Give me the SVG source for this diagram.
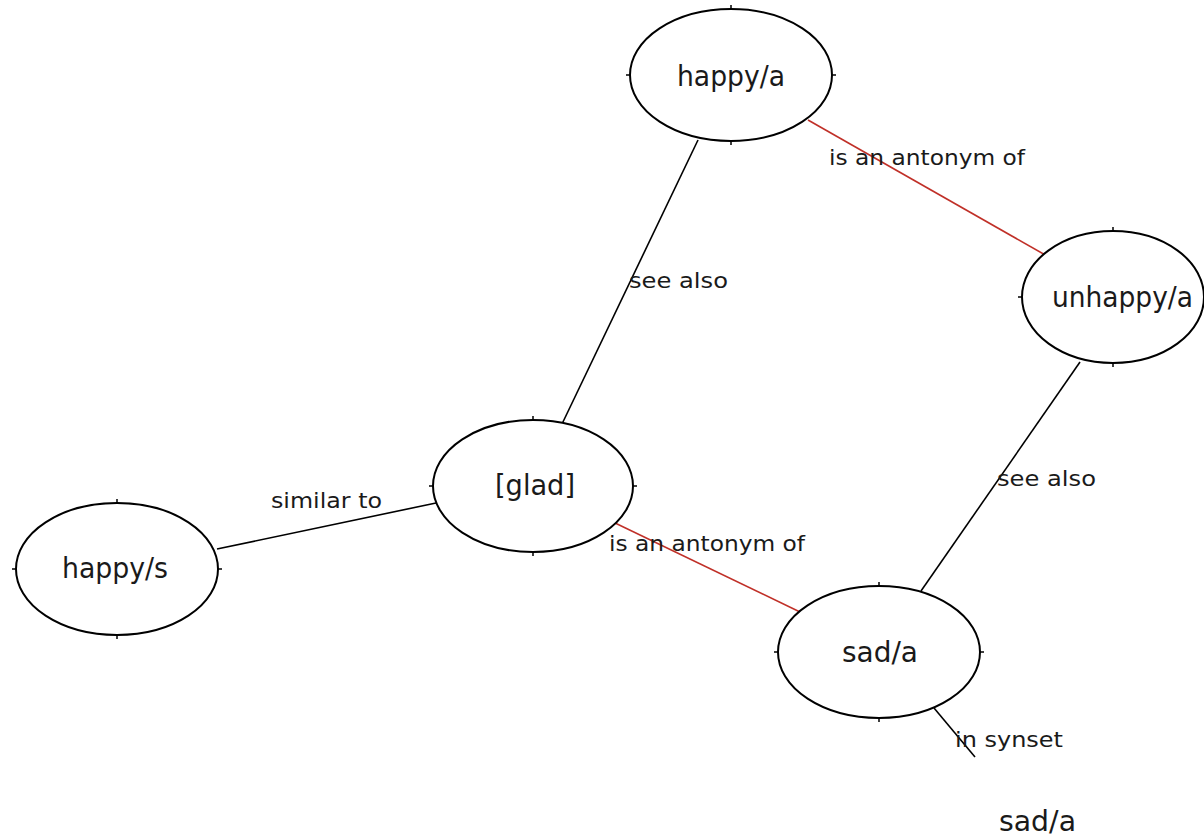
<svg xmlns="http://www.w3.org/2000/svg" width="1204" height="836" viewBox="0 0 1204 836">
<style>
.bg{fill:#fff}
.node ellipse{fill:#fff;stroke:#000;stroke-width:2}
.tick{stroke:#000;stroke-width:1.5}
.nl{font-family:"DejaVu Sans",sans-serif;font-size:29px;fill:#1a1a1a}
.el{font-family:"DejaVu Sans",sans-serif;font-size:21px;fill:#1a1a1a}
.e{stroke:#000;stroke-width:1.6;fill:none}
.r{stroke:#c03028;stroke-width:1.6;fill:none}
</style>
<rect class="bg" width="1204" height="836"/>
<g id="connectors">
<line class="e" x1="698" y1="140" x2="562" y2="424"/>
<line class="r" x1="808" y1="120" x2="1047" y2="256"/>
<line class="e" x1="1080" y1="362" x2="921" y2="591"/>
<line class="r" x1="613" y1="522" x2="800" y2="612"/>
<line class="e" x1="217" y1="549" x2="436" y2="503"/>
<line class="e" x1="934" y1="708" x2="975" y2="757"/>
<text class="el" x="829" y="165" textLength="196" lengthAdjust="spacingAndGlyphs">is an antonym of</text>
<text class="el" x="629" y="288" textLength="99" lengthAdjust="spacingAndGlyphs">see also</text>
<text class="el" x="997" y="486" textLength="99" lengthAdjust="spacingAndGlyphs">see also</text>
<text class="el" x="271" y="508" textLength="111" lengthAdjust="spacingAndGlyphs">similar to</text>
<text class="el" x="609" y="551" textLength="196" lengthAdjust="spacingAndGlyphs">is an antonym of</text>
<text class="el" x="955" y="747" textLength="108" lengthAdjust="spacingAndGlyphs">in synset</text>
</g>
<g id="node-happy-a" class="node">
<ellipse cx="731" cy="75" rx="101" ry="66"/>
<path class="tick" d="M731 9v-4M731 141v4M630 75h-4M832 75h4"/>
<text class="nl" x="677" y="86" textLength="108" lengthAdjust="spacingAndGlyphs">happy/a</text>
</g>
<g id="node-unhappy-a" class="node">
<ellipse cx="1113" cy="297" rx="91" ry="66"/>
<path class="tick" d="M1113 231v-4M1113 363v4M1022 297h-4"/>
<text class="nl" x="1052" y="307" textLength="141" lengthAdjust="spacingAndGlyphs">unhappy/a</text>
</g>
<g id="node-glad" class="node">
<ellipse cx="533" cy="486" rx="100" ry="66"/>
<path class="tick" d="M533 420v-4M533 552v4M433 486h-4M633 486h4"/>
<text class="nl" x="495" y="495" textLength="80" lengthAdjust="spacingAndGlyphs">[glad]</text>
</g>
<g id="node-sad-a" class="node">
<ellipse cx="879" cy="652" rx="101" ry="66"/>
<path class="tick" d="M879 586v-4M879 718v4M778 652h-4M980 652h4"/>
<text class="nl" x="842" y="662" textLength="76" lengthAdjust="spacingAndGlyphs">sad/a</text>
</g>
<g id="node-happy-s" class="node">
<ellipse cx="117" cy="569" rx="101" ry="66"/>
<path class="tick" d="M117 503v-4M117 635v4M16 569h-4M218 569h4"/>
<text class="nl" x="62" y="578" textLength="106" lengthAdjust="spacingAndGlyphs">happy/s</text>
</g>
<g id="node-sad-a-word">
<text class="nl" x="999" y="831" textLength="77" lengthAdjust="spacingAndGlyphs">sad/a</text>
</g>
</svg>
